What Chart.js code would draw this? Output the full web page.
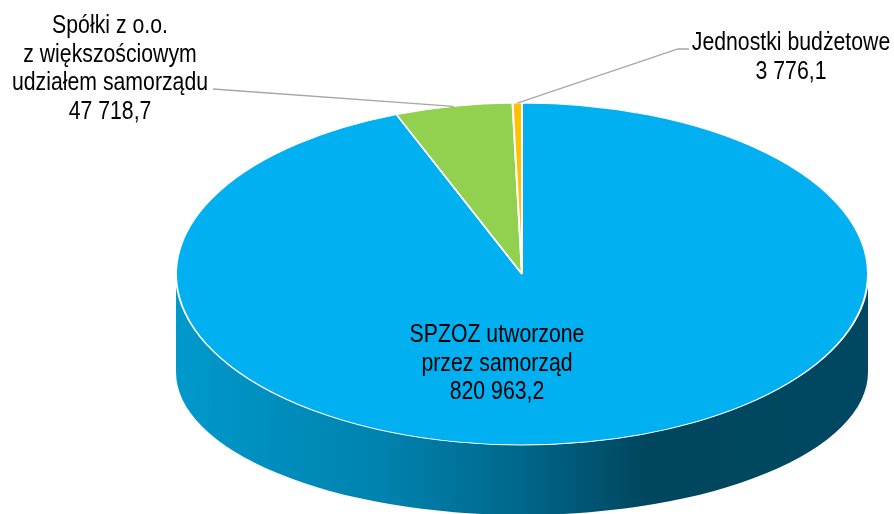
<!DOCTYPE html>
<html>
<head>
<meta charset="utf-8">
<script src="https://cdn.jsdelivr.net/npm/chart.js@4"></script>
<style>
  html, body { margin:0; padding:0; background:#fff; }
  #wrap { width:894px; height:514px; position:relative; }
</style>
</head>
<body>
<div id="wrap"><canvas id="pieChart"></canvas></div>
<script>
/* data */
const categories = ["SPZOZ utworzone przez samorząd", "Spółki z o.o. z większościowym udziałem samorządu", "Jednostki budżetowe"];
const values = [820963.2, 47718.7, 3776.1];
const labelLines = [
  ["SPZOZ utworzone", "przez samorząd"],
  ["Spółki z o.o.", "z większościowym", "udziałem samorządu"],
  ["Jednostki budżetowe"]
];
const sliceColors = ["#00B0F0", "#92D050", "#FFC000"];

/* look of the 3d disc */
const TILT = 171 / 346;      // ry / rx of top face
const DEPTH = 98;            // offset of bottom ellipse centre
const BOTTOM_TILT = 143 / 346;
const SQUEEZE = 0.85;        // narrow text

// label placement: [centre x, first baseline, leader end x, leader end y]
const labelPos = [
  [497, 342, null, null],
  [110, 33, 213, 89],
  [791, 50, 678, 49]
];

function formatPL(n){
  const parts = n.toFixed(1).split(".");
  return parts[0].replace(/\B(?=(\d{3})+(?!\d))/g, " ") + "," + parts[1];
}

function drawText(ctx, str, x, y){
  ctx.save();
  ctx.translate(x, y);
  ctx.scale(SQUEEZE, 1);
  ctx.textAlign = "center";
  ctx.textBaseline = "alphabetic";
  ctx.fillText(str, 0, 0);
  ctx.restore();
}

const pie3d = {
  id: "pie3d",
  beforeDatasetsDraw(chart){
    const ctx = chart.ctx;
    const arcs = chart.getDatasetMeta(0).data;
    if(!arcs.length) return;
    const cx = arcs[0].x, cy = arcs[0].y, r = arcs[0].outerRadius;
    const ry = r * TILT, ry2 = r * BOTTOM_TILT;

    // side wall, only the front half is visible
    const grad = ctx.createLinearGradient(cx - r, 0, cx + r, 0);
    grad.addColorStop(0, "#0099cc");
    grad.addColorStop(0.3, "#0082ae");
    grad.addColorStop(0.5, "#00678b");
    grad.addColorStop(0.68, "#00465e");
    grad.addColorStop(1, "#004862");

    arcs.forEach(a=>{
      [0, 2*Math.PI, -2*Math.PI].forEach(shift=>{
        const s = Math.max(a.startAngle + shift, 0);
        const e = Math.min(a.endAngle + shift, Math.PI);
        if(e <= s) return;
        ctx.save();
        ctx.beginPath();
        ctx.ellipse(cx, cy, r, ry, 0, s, e);
        ctx.ellipse(cx, cy + DEPTH, r, ry2, 0, e, s, true);
        ctx.closePath();
        ctx.fillStyle = grad;
        ctx.fill();
        ctx.restore();
      });
    });

    // squash the top face
    ctx.save();
    ctx.translate(cx, cy);
    ctx.scale(1, TILT);
    ctx.translate(-cx, -cy);
  },
  afterDatasetsDraw(chart){
    const ctx = chart.ctx;
    ctx.restore();
    const arcs = chart.getDatasetMeta(0).data;
    const cx = arcs[0].x, cy = arcs[0].y, r = arcs[0].outerRadius;

    ctx.save();
    ctx.font = '25px "Liberation Sans", Arial, sans-serif';
    ctx.fillStyle = "#000";
    arcs.forEach((a, i)=>{
      const p = labelPos[i];
      if(p[2] !== null){
        const mid = (a.startAngle + a.endAngle) / 2;
        const ax = cx + Math.cos(mid) * r;
        const ay = cy + Math.sin(mid) * r * TILT;
        ctx.beginPath();
        ctx.strokeStyle = "#a6a6a6";
        ctx.lineWidth = 1.3;
        ctx.moveTo(ax, ay);
        ctx.lineTo(p[2], p[3]);
        if(i === 2) ctx.lineTo(p[2] + 11, p[3]);
        ctx.stroke();
      }
      const lines = labelLines[i].concat([formatPL(values[i])]);
      lines.forEach((t, k)=> drawText(ctx, t, p[0], p[1] + k * 28.7));
    });
    ctx.restore();
  }
};

new Chart(document.getElementById("pieChart"), {
  type: "pie",
  data: {
    labels: categories,
    datasets: [{
      data: values,
      backgroundColor: sliceColors,
      borderColor: "#ffffff",
      borderWidth: 2,
      clip: false
    }]
  },
  options: {
    responsive: true,
    maintainAspectRatio: false,
    animation: false,
    events: [],
    radius: 346,
    layout: { padding: { left: 150, top: 34, right: 0, bottom: 0 } },
    plugins: {
      legend: { display: false },
      tooltip: { enabled: false }
    }
  },
  plugins: [pie3d]
});
</script>
</body>
</html>
